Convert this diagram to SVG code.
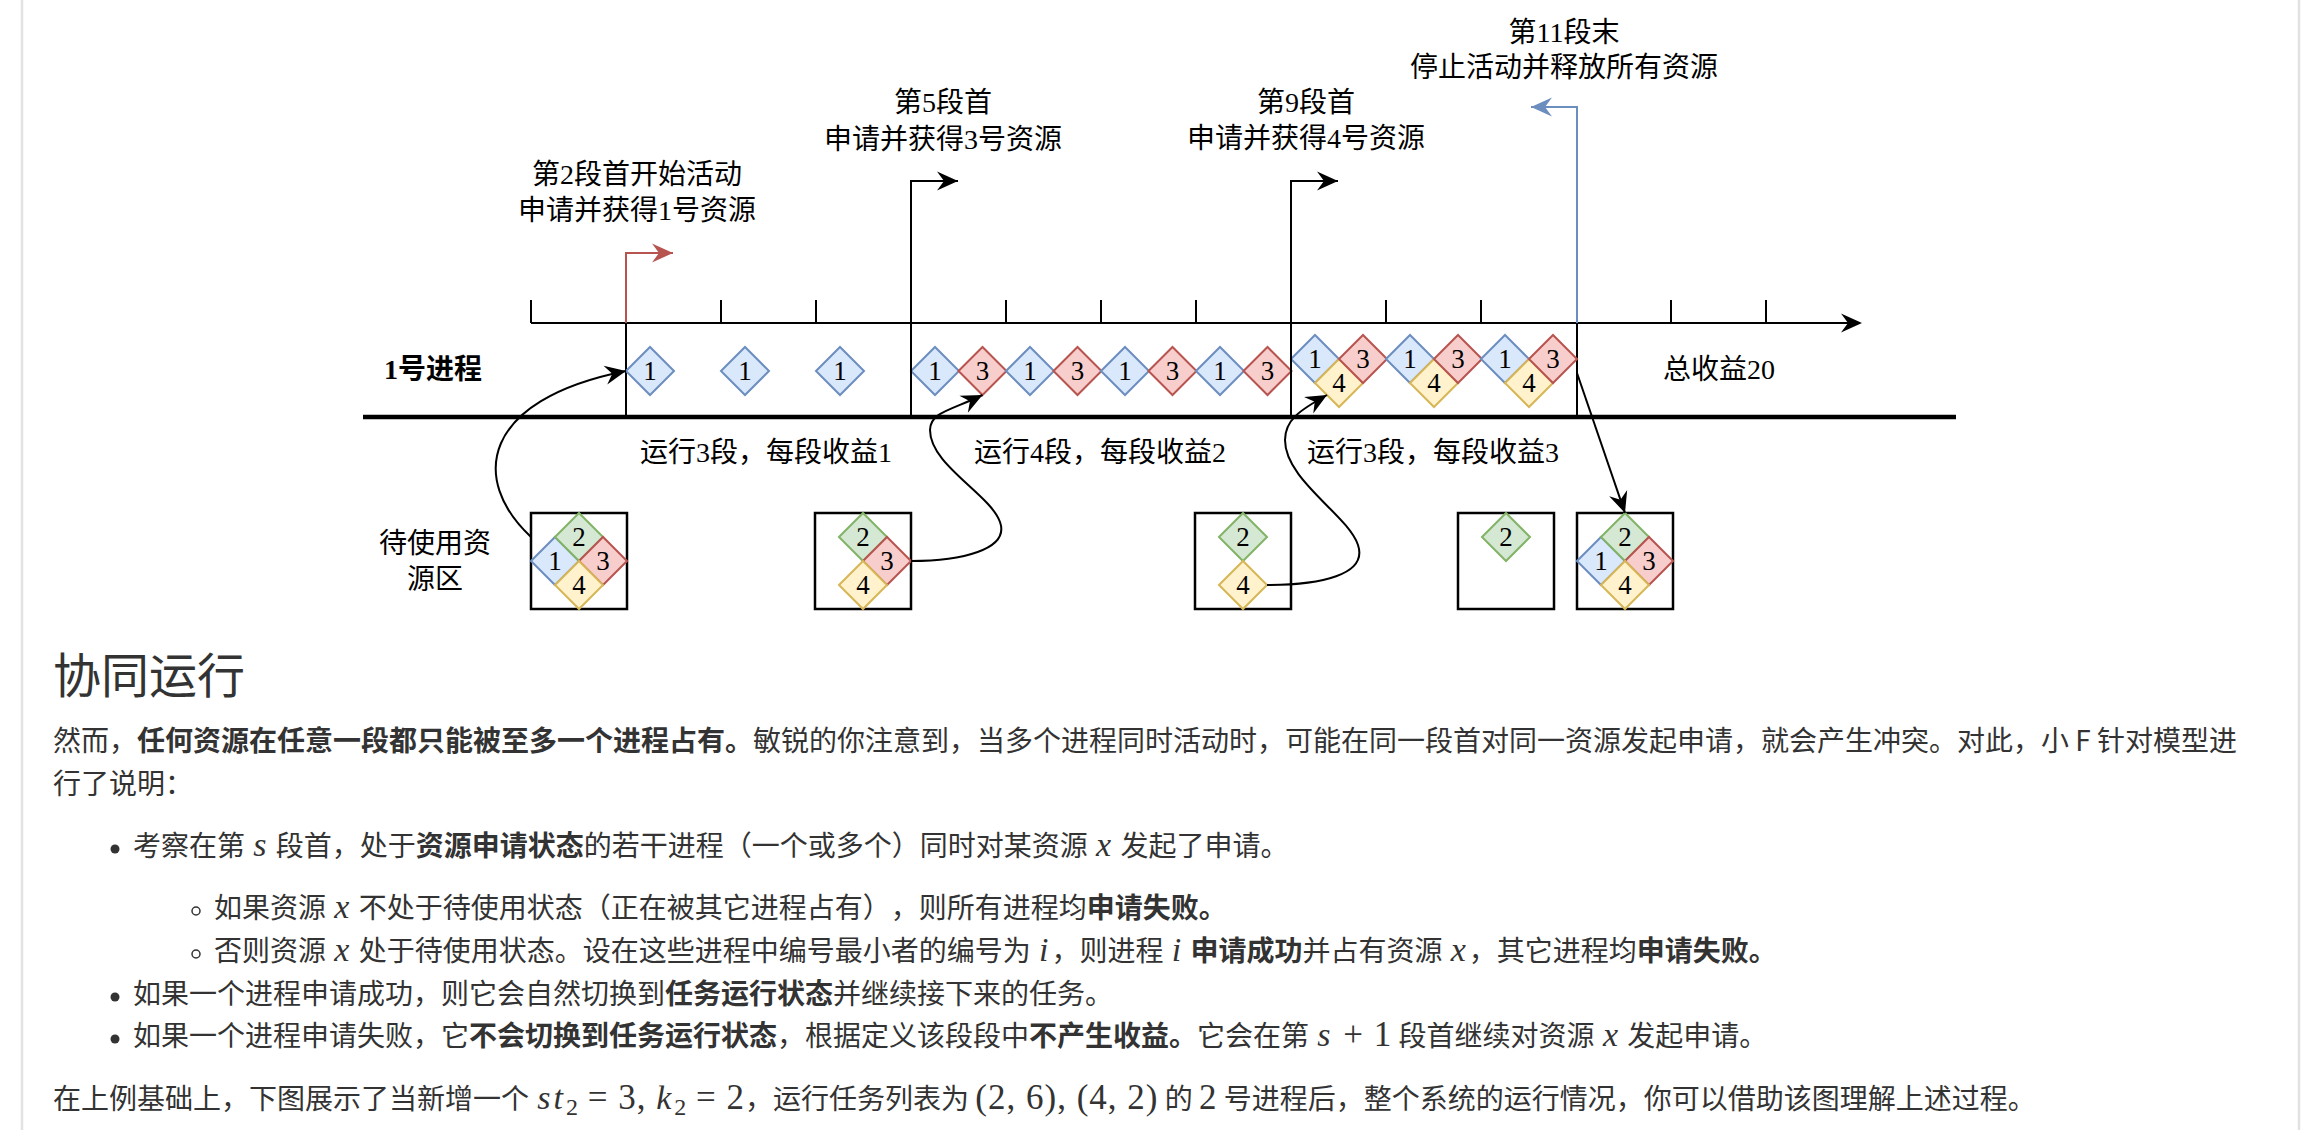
<svg xmlns="http://www.w3.org/2000/svg" width="2322" height="1130" viewBox="0 0 2322 1130">
<defs>
<style>
.lbl{font-family:"Liberation Serif","Noto Sans CJK SC",serif;font-size:28px;fill:#000;text-anchor:middle}
.num{font-family:"Liberation Serif",serif;font-size:27px;fill:#000;text-anchor:middle}
.b{fill:#dae8fc;stroke:#6c8ebf;stroke-width:2}
.r{fill:#f8cecc;stroke:#b85450;stroke-width:2}
.g{fill:#d5e8d4;stroke:#82b366;stroke-width:2}
.y{fill:#fff2cc;stroke:#d6b656;stroke-width:2}
.ln{stroke:#000;stroke-width:2;fill:none}
.box{fill:none;stroke:#000;stroke-width:2.5}
.body{font-family:"Noto Sans CJK SC","Noto Sans",sans-serif;font-size:28px;fill:#333;text-spacing-trim:space-all}
.bd{font-weight:bold}
.m{font-family:"Liberation Serif",serif;font-style:italic;font-size:34px;letter-spacing:3px}
.mu{font-family:"Liberation Serif",serif;font-size:35px;letter-spacing:1px}
.sb{font-family:"Liberation Serif",serif;font-size:24px}
</style>
<path id="d" d="M-24,0 L0,-24 L24,0 L0,24 Z"/>
<marker id="ak" viewBox="-22 -11 23 22" refX="0" refY="0" markerWidth="23" markerHeight="22" markerUnits="userSpaceOnUse" orient="auto"><path d="M0,0 L-21,-9.5 L-14,0 L-21,9.5 Z" fill="#000"/></marker>
<marker id="ar" viewBox="-22 -11 23 22" refX="0" refY="0" markerWidth="23" markerHeight="22" markerUnits="userSpaceOnUse" orient="auto"><path d="M0,0 L-21,-9.5 L-14,0 L-21,9.5 Z" fill="#b85450"/></marker>
<marker id="ab" viewBox="-22 -11 23 22" refX="0" refY="0" markerWidth="23" markerHeight="22" markerUnits="userSpaceOnUse" orient="auto"><path d="M0,0 L-21,-9.5 L-14,0 L-21,9.5 Z" fill="#6c8ebf"/></marker>
</defs>
<rect width="2322" height="1130" fill="#fff"/>

<!-- timeline axis -->
<g id="axis">
<path class="ln" d="M531,323 H1850"/>
<path d="M1862,323 L1841,313.5 L1848,323 L1841,332.5 Z" fill="#000"/>
<path class="ln" d="M531,300V323 M721,300V323 M816,300V323 M1006,300V323 M1101,300V323 M1196,300V323 M1386,300V323 M1481,300V323 M1671,300V323 M1766,300V323"/>
<path d="M363,417 H1956" stroke="#000" stroke-width="4.5"/>
<path class="ln" d="M626,323 V417 M1577,323 V417"/>
</g>

<!-- process label -->
<g id="proc-label"><text class="lbl" x="433" y="379" font-weight="bold">1号进程</text></g>

<!-- running diamonds -->
<g id="run-seg-2-4">
<use href="#d" x="650" y="371" class="b"/><text class="num" x="650" y="380">1</text>
<use href="#d" x="745" y="371" class="b"/><text class="num" x="745" y="380">1</text>
<use href="#d" x="840" y="371" class="b"/><text class="num" x="840" y="380">1</text>
</g>
<g id="run-seg-5-8">
<use href="#d" x="935" y="371" class="b"/><text class="num" x="935" y="380">1</text>
<use href="#d" x="982.5" y="371" class="r"/><text class="num" x="982.5" y="380">3</text>
<use href="#d" x="1030" y="371" class="b"/><text class="num" x="1030" y="380">1</text>
<use href="#d" x="1077.5" y="371" class="r"/><text class="num" x="1077.5" y="380">3</text>
<use href="#d" x="1125" y="371" class="b"/><text class="num" x="1125" y="380">1</text>
<use href="#d" x="1172.5" y="371" class="r"/><text class="num" x="1172.5" y="380">3</text>
<use href="#d" x="1220" y="371" class="b"/><text class="num" x="1220" y="380">1</text>
<use href="#d" x="1267.5" y="371" class="r"/><text class="num" x="1267.5" y="380">3</text>
</g>
<g id="run-seg-9-11">
<use href="#d" x="1315" y="359" class="b"/><use href="#d" x="1339" y="383" class="y"/><use href="#d" x="1363" y="359" class="r"/>
<text class="num" x="1315" y="368">1</text><text class="num" x="1339" y="392">4</text><text class="num" x="1363" y="368">3</text>
<use href="#d" x="1410" y="359" class="b"/><use href="#d" x="1434" y="383" class="y"/><use href="#d" x="1458" y="359" class="r"/>
<text class="num" x="1410" y="368">1</text><text class="num" x="1434" y="392">4</text><text class="num" x="1458" y="368">3</text>
<use href="#d" x="1505" y="359" class="b"/><use href="#d" x="1529" y="383" class="y"/><use href="#d" x="1553" y="359" class="r"/>
<text class="num" x="1505" y="368">1</text><text class="num" x="1529" y="392">4</text><text class="num" x="1553" y="368">3</text>
</g>

<!-- event labels -->
<g id="ev-start"><text class="lbl" x="637" y="184">第2段首开始活动</text><text class="lbl" x="637" y="220">申请并获得1号资源</text></g>
<g id="ev-5"><text class="lbl" x="943" y="112">第5段首</text><text class="lbl" x="943" y="149">申请并获得3号资源</text></g>
<g id="ev-9"><text class="lbl" x="1306" y="112">第9段首</text><text class="lbl" x="1306" y="148">申请并获得4号资源</text></g>
<g id="ev-11"><text class="lbl" x="1564" y="42">第11段末</text><text class="lbl" x="1564" y="77">停止活动并释放所有资源</text></g>

<!-- run labels -->
<g id="run-labels">
<text class="lbl" x="766" y="462">运行3段，每段收益1</text>
<text class="lbl" x="1100" y="462">运行4段，每段收益2</text>
<text class="lbl" x="1433" y="462">运行3段，每段收益3</text>
<text class="lbl" x="1719" y="379">总收益20</text>
</g>

<!-- resource pool -->
<g id="pool-label"><text class="lbl" x="435" y="553">待使用资</text><text class="lbl" x="435" y="589">源区</text></g>
<g id="pool-1">
<rect class="box" x="531" y="513" width="96" height="96"/>
<use href="#d" x="555" y="561" class="b"/><use href="#d" x="579" y="537" class="g"/><use href="#d" x="603" y="561" class="r"/><use href="#d" x="579" y="585" class="y"/>
<text class="num" x="555" y="570">1</text><text class="num" x="579" y="546">2</text><text class="num" x="603" y="570">3</text><text class="num" x="579" y="594">4</text>
</g>
<g id="pool-2">
<rect class="box" x="815" y="513" width="96" height="96"/>
<use href="#d" x="863" y="537" class="g"/><use href="#d" x="887" y="561" class="r"/><use href="#d" x="863" y="585" class="y"/>
<text class="num" x="863" y="546">2</text><text class="num" x="887" y="570">3</text><text class="num" x="863" y="594">4</text>
</g>
<g id="pool-3">
<rect class="box" x="1195" y="513" width="96" height="96"/>
<use href="#d" x="1243" y="537" class="g"/><use href="#d" x="1243" y="585" class="y"/>
<text class="num" x="1243" y="546">2</text><text class="num" x="1243" y="594">4</text>
</g>
<g id="pool-4">
<rect class="box" x="1458" y="513" width="96" height="96"/>
<use href="#d" x="1506" y="537" class="g"/>
<text class="num" x="1506" y="546">2</text>
</g>
<g id="pool-5">
<rect class="box" x="1577" y="513" width="96" height="96"/>
<use href="#d" x="1601" y="561" class="b"/><use href="#d" x="1625" y="537" class="g"/><use href="#d" x="1649" y="561" class="r"/><use href="#d" x="1625" y="585" class="y"/>
<text class="num" x="1601" y="570">1</text><text class="num" x="1625" y="546">2</text><text class="num" x="1649" y="570">3</text><text class="num" x="1625" y="594">4</text>
</g>

<!-- connectors -->
<g id="connectors" fill="none" stroke-width="2">
<path d="M626,323 V253 H673" stroke="#b85450" marker-end="url(#ar)"/>
<path d="M911,417 V181 H958" stroke="#000" marker-end="url(#ak)"/>
<path d="M1291,417 V181 H1338" stroke="#000" marker-end="url(#ak)"/>
<path d="M1577,323 V107 H1531" stroke="#6c8ebf" marker-end="url(#ab)"/>
<path d="M531,537 C470,480 480,400 626,371" stroke="#000" marker-end="url(#ak)"/>
<path d="M911,561 C960,561 1010,550 1000,522 C990,494 930,465 930,430 C930,412 952,410 982.5,395" stroke="#000" marker-end="url(#ak)"/>
<path d="M1267,585 C1320,585 1368,575 1358,545 C1348,515 1285,480 1285,440 C1285,420 1300,410 1327,395" stroke="#000" marker-end="url(#ak)"/>
<path d="M1577,373 L1625,513" stroke="#000" marker-end="url(#ak)"/>
</g>

<!-- article text -->
<g id="article">
<line x1="22" y1="0" x2="22" y2="1130" stroke="#e2e2e2" stroke-width="2.5"/>
<line x1="2299" y1="0" x2="2299" y2="1130" stroke="#e2e2e2" stroke-width="2.5"/>
<text class="body" x="53" y="693" style="font-size:48px">协同运行</text>
<text class="body" x="53" y="751">然而，<tspan class="bd">任何资源在任意一段都只能被至多一个进程占有。</tspan>敏锐的你注意到，当多个进程同时活动时，可能在同一段首对同一资源发起申请，就会产生冲突。对此，小 F 针对模型进</text>
<text class="body" x="53" y="794">行了说明：</text>
<circle cx="115" cy="849" r="4.5" fill="#333"/>
<text class="body" x="133" y="856">考察在第 <tspan class="m" dx="2">s</tspan> 段首，处于<tspan class="bd">资源申请状态</tspan>的若干进程（一个或多个）同时对某资源 <tspan class="m" dx="2">x</tspan> 发起了申请。</text>
<circle cx="196" cy="911" r="4" fill="none" stroke="#333" stroke-width="1.5"/>
<text class="body" x="214" y="918">如果资源 <tspan class="m" dx="2">x</tspan> 不处于待使用状态（正在被其它进程占有）<tspan dx="0">，则所有进程均</tspan><tspan class="bd">申请失败。</tspan></text>
<circle cx="196" cy="954" r="4" fill="none" stroke="#333" stroke-width="1.5"/>
<text class="body" x="214" y="961">否则资源 <tspan class="m" dx="2">x</tspan> 处于待使用状态。设在这些进程中编号最小者的编号为 <tspan class="m" dx="2">i</tspan>，则进程 <tspan class="m" dx="2">i</tspan> <tspan class="bd">申请成功</tspan>并占有资源 <tspan class="m" dx="2">x</tspan>，其它进程均<tspan class="bd">申请失败。</tspan></text>
<circle cx="115" cy="997" r="4.5" fill="#333"/>
<text class="body" x="133" y="1004">如果一个进程申请成功，则它会自然切换到<tspan class="bd">任务运行状态</tspan>并继续接下来的任务。</text>
<circle cx="115" cy="1039" r="4.5" fill="#333"/>
<text class="body" x="133" y="1046">如果一个进程申请失败，它<tspan class="bd">不会切换到任务运行状态</tspan>，根据定义该段段中<tspan class="bd">不产生收益。</tspan>它会在第 <tspan class="m" dx="2">s</tspan><tspan class="mu"> + 1</tspan> 段首继续对资源 <tspan class="m" dx="2">x</tspan> 发起申请。</text>
<text class="body" x="53" y="1109">在上例基础上，下图展示了当新增一个 <tspan class="m" dx="2">st</tspan><tspan class="sb" dy="6">2</tspan><tspan class="mu" dy="-6"> = 3, </tspan><tspan class="m">k</tspan><tspan class="sb" dy="6">2</tspan><tspan class="mu" dy="-6"> = 2</tspan>，运行任务列表为 <tspan class="mu">(2, 6), (4, 2)</tspan> 的 <tspan class="mu">2</tspan> 号进程后，整个系统的运行情况，你可以借助该图理解上述过程。</text>
</g>
</svg>
